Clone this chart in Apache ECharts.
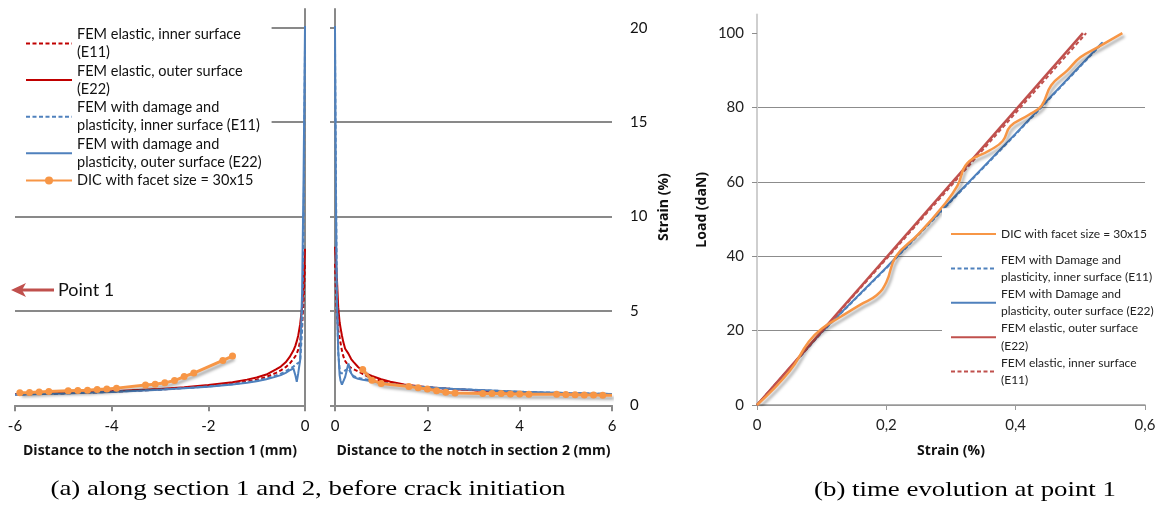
<!DOCTYPE html>
<html><head><meta charset="utf-8">
<script src="https://cdn.jsdelivr.net/npm/echarts@6/dist/echarts.min.js"></script>
<style>html,body{margin:0;padding:0;background:#fff}#c{width:1170px;height:508px}</style>
</head><body><div id="c"></div>
<script>
// ---------- Panel (a): strain along sections ----------
const sec1X = [-6,-5,-4,-3,-2.5,-2,-1.5,-1.2,-1,-0.8,-0.6,-0.5,-0.4,-0.32,-0.24,-0.2,-0.17,-0.14,-0.1,-0.06,-0.03,-0.015,0];
const sec1ElasticOuter = [0.6,0.66,0.74,0.87,0.96,1.07,1.22,1.36,1.47,1.63,1.9,2.05,2.28,2.55,2.9,3.15,3.4,3.7,4.3,5.2,6.3,7.2,8.3];
const sec1ElasticInner = [0.58,0.64,0.72,0.84,0.92,1.02,1.15,1.26,1.36,1.5,1.72,1.85,2.02,2.2,2.45,2.6,2.75,2.95,3.4,4.2,5.5,6.4,7.5];
const sec1DamageInner  = [0.57,0.63,0.71,0.83,0.91,1.0,1.12,1.22,1.3,1.42,1.58,1.68,1.8,1.92,2.05,2.15,2.2,2.25,2.3,4.0,9.0,14,19];
const sec1DamageOuter  = [0.56,0.62,0.7,0.82,0.9,0.98,1.1,1.2,1.28,1.38,1.52,1.6,1.72,1.85,1.95,1.6,1.25,1.7,2.4,6.0,12,16,20.1];
const sec1DicX = [-5.9,-5.7,-5.5,-5.3,-4.9,-4.7,-4.5,-4.3,-4.1,-3.9,-3.3,-3.1,-2.9,-2.7,-2.5,-2.3,-1.7,-1.5];
const sec1DicY = [0.66,0.68,0.71,0.73,0.77,0.79,0.8,0.84,0.87,0.91,1.07,1.12,1.19,1.31,1.52,1.71,2.38,2.61];

const sec2X = [0,0.02,0.04,0.07,0.1,0.12,0.15,0.18,0.22,0.29,0.35,0.4,0.5,0.6,0.7,0.8,1.0,1.2,1.5,2,2.5,3,4,5,6];
const sec2ElasticOuter = [8.4,7.6,6.8,5.2,4.4,4.1,3.7,3.35,3.0,2.74,2.45,2.3,2.03,1.83,1.65,1.55,1.38,1.25,1.1,0.96,0.87,0.8,0.68,0.62,0.57];
const sec2ElasticInner = [7.5,6.0,4.8,4.0,3.6,3.3,2.9,2.6,2.35,2.1,1.98,1.92,1.8,1.66,1.55,1.45,1.3,1.2,1.07,0.95,0.87,0.8,0.68,0.62,0.57];
const sec2DamageInner  = [19,12,6,2.8,1.9,1.7,1.65,1.7,1.85,1.95,1.7,1.55,1.45,1.4,1.35,1.3,1.2,1.13,1.05,0.96,0.88,0.82,0.72,0.65,0.6];
const sec2DamageOuter  = [20.1,11,5.5,2.9,1.6,1.3,1.1,1.06,1.5,2.21,1.7,1.5,1.4,1.35,1.32,1.28,1.18,1.12,1.05,0.96,0.88,0.82,0.72,0.65,0.6];
const sec2DicX = [0.6,0.8,1.0,1.6,1.8,2.0,2.2,2.4,2.6,3.2,3.4,3.6,3.8,4.0,4.2,4.8,5.0,5.2,5.4,5.6,5.8,6.0];
const sec2DicY = [1.9,1.33,1.16,1.0,0.93,0.86,0.77,0.69,0.65,0.63,0.63,0.62,0.6,0.6,0.59,0.58,0.57,0.56,0.55,0.54,0.53,0.53];

const sec1XTicks = ['-6','-4','-2','0'];
const sec2XTicks = ['0','2','4','6'];
const strainTicks = ['0','5','10','15','20'];

const legendA = ['FEM elastic, inner surface\n(E11)','FEM elastic, outer surface\n(E22)','FEM with damage and\nplasticity, inner surface (E11)','FEM with damage and\nplasticity, outer surface (E22)','DIC with facet size = 30x15'];

// ---------- Panel (b): load vs strain at point 1 ----------
const bDicStrain = [0,0.05,0.08,0.1,0.13,0.16,0.185,0.2,0.215,0.25,0.29,0.31,0.325,0.36,0.38,0.392,0.42,0.44,0.455,0.48,0.5,0.53,0.565];
const bDicLoad   = [0,9,17,20.5,23.8,27,29.5,33,40,46,54,59,65,68.5,71,75,78,80.5,86,90,93.5,96.5,100];
const bDamageInnerStrain = [0,0.1,0.2,0.3,0.4,0.535];
const bDamageInnerLoad   = [0,19.5,36.8,54.8,72.8,97.5];
const bDamageOuterStrain = [0,0.1,0.2,0.3,0.4,0.534];
const bDamageOuterLoad   = [0,19.6,37,55,73,97.5];
const bElasticOuterStrain = [0,0.504];
const bElasticOuterLoad   = [0,100];
const bElasticInnerStrain = [0,0.509];
const bElasticInnerLoad   = [0,100];

const loadTicks = ['0','20','40','60','80','100'];
const bStrainTicks = ['0','0,2','0,4','0,6'];

const legendB = ['DIC with facet size = 30x15','FEM with Damage and\nplasticity, inner surface (E11)','FEM with Damage and\nplasticity, outer surface (E22)','FEM elastic, outer surface\n(E22)','FEM elastic, inner surface\n(E11)'];

// ---------- build ----------
const zip = (xs, ys) => xs.map((x, i) => [x, ys[i]]);
function fmt(labels, min, step) {
  return v => { const i = Math.round((v - min) / step); return (Math.abs(v - (min + i * step)) < 1e-9 && labels[i] != null) ? labels[i] : ''; };
}
const RED = '#C00000', BLUE = '#4F81BD', ORANGE = '#F79646', RED_B = '#C0504D';
const DASH = [4, 2.5];
const GRID_GRAY = '#898989';
const FONT = 'Lato';
const NAME_FONT = 'Open Sans';
const shadow = {shadowColor: 'rgba(0,0,0,0.35)', shadowBlur: 3, shadowOffsetX: 2, shadowOffsetY: 3};

const nameMap = {};
legendA.forEach((t, i) => nameMap['a' + i] = t);
legendB.forEach((t, i) => nameMap['b' + i] = t);

const LA = 18.3, LB = 17.2;
function legendData(prefix, labels, L, withSymbol) {
  return labels.map((t, i) => ({
    name: prefix + i,
    itemStyle: withSymbol(i) ? undefined : {opacity: 0},
    textStyle: {padding: t.indexOf('\n') >= 0 ? [L, 0, 0, 0] : (prefix === 'a' ? [9, 0, 9, 0] : [L, 0, L, 0])}
  }));
}

function fem(name, grid, xs, ys, color, dashed, z) {
  return {name, type: 'line', xAxisIndex: grid, yAxisIndex: grid, data: zip(xs, ys),
    symbol: 'none', z: z, lineStyle: {color, width: 2, type: dashed ? DASH : 'solid'}, itemStyle: {color}};
}
const series = [
  fem('a0', 0, sec1X, sec1ElasticInner, RED, true, 2),
  fem('a1', 0, sec1X, sec1ElasticOuter, RED, false, 2),
  fem('a2', 0, sec1X, sec1DamageInner, BLUE, true, 3),
  fem('a3', 0, sec1X, sec1DamageOuter, BLUE, false, 3),
  fem('a0', 1, sec2X, sec2ElasticInner, RED, true, 2),
  fem('a1', 1, sec2X, sec2ElasticOuter, RED, false, 2),
  fem('a2', 1, sec2X, sec2DamageInner, BLUE, true, 3),
  fem('a3', 1, sec2X, sec2DamageOuter, BLUE, false, 3),
  {name: 'a4', type: 'line', xAxisIndex: 0, yAxisIndex: 0, data: zip(sec1DicX, sec1DicY), z: 4,
    symbol: 'circle', symbolSize: 7, showSymbol: true,
    lineStyle: Object.assign({color: ORANGE, width: 3}, shadow), itemStyle: {color: ORANGE}},
  {name: 'a4', type: 'line', xAxisIndex: 1, yAxisIndex: 1, z: 4,
    data: zip(sec2DicX, sec2DicY).map((p, i, arr) => i === arr.length - 1 ? {value: p, symbol: 'none'} : p),
    symbol: 'circle', symbolSize: 7, showSymbol: true,
    lineStyle: Object.assign({color: ORANGE, width: 3}, shadow), itemStyle: {color: ORANGE}},
  {name: 'b1', type: 'line', xAxisIndex: 2, yAxisIndex: 3, data: zip(bDamageInnerStrain, bDamageInnerLoad), symbol: 'none',
    lineStyle: {color: BLUE, width: 2, type: DASH}, itemStyle: {color: BLUE}},
  {name: 'b2', type: 'line', xAxisIndex: 2, yAxisIndex: 3, data: zip(bDamageOuterStrain, bDamageOuterLoad), symbol: 'none',
    lineStyle: {color: BLUE, width: 2}, itemStyle: {color: BLUE}},
  {name: 'b3', type: 'line', xAxisIndex: 2, yAxisIndex: 3, data: zip(bElasticOuterStrain, bElasticOuterLoad), symbol: 'none',
    lineStyle: {color: RED_B, width: 2.5}, itemStyle: {color: RED_B}},
  {name: 'b4', type: 'line', xAxisIndex: 2, yAxisIndex: 3, data: zip(bElasticInnerStrain, bElasticInnerLoad), symbol: 'none',
    lineStyle: {color: RED_B, width: 2, type: DASH}, itemStyle: {color: RED_B}},
  {name: 'b0', type: 'line', xAxisIndex: 2, yAxisIndex: 3, data: zip(bDicStrain, bDicLoad), symbol: 'none',
    smooth: 0.45, z: 4,
    lineStyle: Object.assign({color: ORANGE, width: 2.5}, shadow), itemStyle: {color: ORANGE}}
];

const axisLineA = {show: true, onZero: false, lineStyle: {color: GRID_GRAY, width: 2}};
const tickLabA = {fontFamily: FONT, fontSize: 15, color: '#111'};
const nameStyleA = {fontFamily: NAME_FONT, fontSize: 14, fontWeight: 'bold', color: '#111'};
const nameStyleB = {fontFamily: NAME_FONT, fontSize: 14, fontWeight: 'bold', color: '#111'};

const option = {
  animation: false,
  backgroundColor: '#fff',
  grid: [
    {left: 15, top: 9, width: 290, height: 396.3},
    {left: 335, top: 9, width: 277, height: 396.3},
    {left: 757, top: 14.6, width: 388, height: 390.4}
  ],
  xAxis: [
    {type: 'value', gridIndex: 0, min: -6, max: 0, interval: 2, axisLine: axisLineA,
     axisTick: {show: true, length: 6, lineStyle: {color: GRID_GRAY, width: 2}}, splitLine: {show: false},
     axisLabel: Object.assign({margin: 13, formatter: fmt(sec1XTicks, -6, 2)}, tickLabA),
     name: 'Distance to the notch in section 1 (mm)', nameLocation: 'middle', nameGap: 39, nameTextStyle: nameStyleA},
    {type: 'value', gridIndex: 1, min: 0, max: 6, interval: 2, axisLine: axisLineA,
     axisTick: {show: true, length: 6, lineStyle: {color: GRID_GRAY, width: 2}}, splitLine: {show: false},
     axisLabel: Object.assign({margin: 13, formatter: fmt(sec2XTicks, 0, 2)}, tickLabA),
     name: 'Distance to the notch in section 2 (mm)', nameLocation: 'middle', nameGap: 39, nameTextStyle: nameStyleA},
    {type: 'value', gridIndex: 2, min: 0, max: 0.6, interval: 0.2,
     axisLine: {show: true, onZero: false, lineStyle: {color: '#9a9a9a', width: 1.5}},
     axisTick: {show: true, length: 5, lineStyle: {color: '#9a9a9a'}}, splitLine: {show: false},
     axisLabel: {margin: 13, fontFamily: FONT, fontSize: 15, color: '#222', formatter: fmt(bStrainTicks, 0, 0.2)},
     name: 'Strain (%)', nameLocation: 'middle', nameGap: 39, nameTextStyle: nameStyleB}
  ],
  yAxis: [
    {type: 'value', gridIndex: 0, position: 'right', min: 0, max: 21, interval: 5, axisLine: axisLineA,
     axisTick: {show: false}, axisLabel: {show: false},
     splitLine: {show: true, showMaxLine: false, lineStyle: {color: GRID_GRAY, width: 2}}},
    {type: 'value', gridIndex: 1, position: 'left', min: 0, max: 21, interval: 5, axisLine: axisLineA,
     axisTick: {show: true, length: 5, customValues: [0,5,10,15,20], lineStyle: {color: GRID_GRAY, width: 2}}, axisLabel: {show: false},
     splitLine: {show: true, showMaxLine: false, lineStyle: {color: GRID_GRAY, width: 2}}},
    {type: 'value', gridIndex: 1, position: 'right', min: 0, max: 21, interval: 5,
     axisLine: {show: false, onZero: false}, axisTick: {show: false}, splitLine: {show: false},
     axisLabel: Object.assign({margin: 18, showMaxLabel: false, formatter: fmt(strainTicks, 0, 5)}, tickLabA),
     name: 'Strain (%)', nameLocation: 'middle', nameGap: 45, nameTextStyle: nameStyleA},
    {type: 'value', gridIndex: 2, position: 'left', min: 0, max: 105, interval: 20,
     axisLine: {show: true, onZero: false, lineStyle: {color: '#cfcfcf', width: 2}},
     axisTick: {show: true, length: 5, customValues: [0,20,40,60,80,100], lineStyle: {color: '#8c8c8c'}},
     axisLabel: {margin: 13, showMaxLabel: false, fontFamily: FONT, fontSize: 15, color: '#222', formatter: fmt(loadTicks, 0, 20)},
     splitLine: {show: true, showMaxLine: false, lineStyle: {color: '#8c8c8c', width: 1}},
     name: 'Load (daN)', nameLocation: 'middle', nameGap: 48, nameTextStyle: nameStyleB}
  ],
  legend: [
    {left: 15, top: 16, orient: 'vertical', itemGap: -LA, itemWidth: 46, itemHeight: 10, padding: [0, 10, 0, 10],
     backgroundColor: '#fff', selectedMode: false, z: 10,
     textStyle: {fontFamily: FONT, fontSize: 14.5, lineHeight: LA, color: '#111'},
     formatter: n => nameMap[n], data: legendData('a', legendA, LA, i => i === 4)},
    {left: 942, top: 234 - 1.5 * LB, orient: 'vertical', itemGap: -LB, itemWidth: 45, itemHeight: 10, padding: [0, 5, 0, 8],
     backgroundColor: '#fff', selectedMode: false, z: 10,
     textStyle: {fontFamily: FONT, fontSize: 12, lineHeight: LB, color: '#222'},
     formatter: n => nameMap[n], data: legendData('b', legendB, LB, i => false)}
  ],
  graphic: [
    {type: 'line', shape: {x1: 54, y1: 290, x2: 20, y2: 290}, style: {stroke: '#C0504D', lineWidth: 3}, z: 20},
    {type: 'polygon', shape: {points: [[11, 290], [26, 283], [22, 290], [26, 297]]}, style: {fill: '#C0504D'}, z: 20},
    {type: 'text', x: 58, y: 290, style: {text: 'Point 1', fontFamily: FONT, fontSize: 18, fill: '#111', verticalAlign: 'middle', align: 'left'}, z: 20},
    {type: 'text', x: 308, y: 489, scaleX: 1.22, style: {text: '(a) along section 1 and 2, before crack initiation', fontFamily: 'Liberation Serif', fontSize: 22, fill: '#000', align: 'center', verticalAlign: 'middle'}},
    {type: 'text', x: 965, y: 490, scaleX: 1.22, style: {text: '(b) time evolution at point 1', fontFamily: 'Liberation Serif', fontSize: 22, fill: '#000', align: 'center', verticalAlign: 'middle'}}
  ],
  series
};
const chart = echarts.init(document.getElementById('c'), null, {renderer: 'canvas'});
chart.setOption(option);
</script>
</body></html>
